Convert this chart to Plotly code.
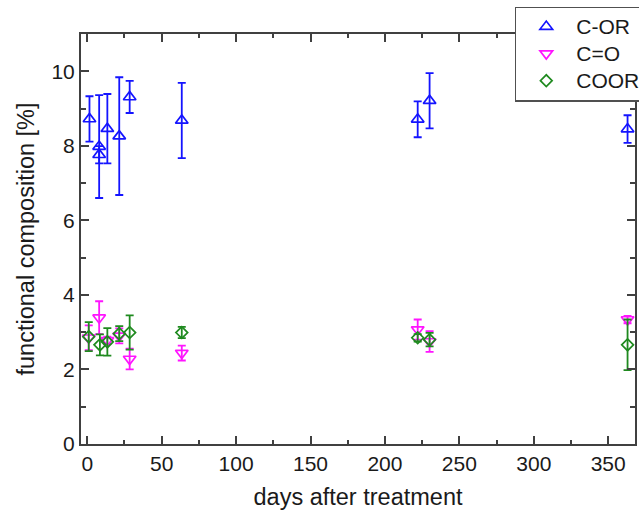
import plotly.graph_objects as go

# Functional group composition versus time after treatment (mean ± sd)
cor_days = [1.5, 8, 8, 13.5, 21.5, 28.5, 63.5, 222, 230, 363]
cor_vals = [8.72, 7.98, 7.76, 8.46, 8.26, 9.31, 8.68, 8.71, 9.21, 8.45]
cor_err = [0.61, 1.38, 0.23, 0.93, 1.58, 0.43, 1.01, 0.48, 0.74, 0.37]

co_days = [1, 8, 13.5, 21.5, 28.5, 63.5, 222, 230, 363]
co_vals = [2.85, 3.39, 2.78, 2.90, 2.28, 2.44, 3.07, 2.75, 3.34]
co_err = [0.33, 0.44, 0.10, 0.20, 0.28, 0.20, 0.27, 0.28, 0.10]

coor_days = [1, 8.5, 13.5, 21.5, 28.5, 63.5, 222, 230, 363]
coor_vals = [2.88, 2.66, 2.74, 2.96, 2.99, 2.99, 2.85, 2.80, 2.66]
coor_err = [0.39, 0.28, 0.37, 0.20, 0.46, 0.15, 0.10, 0.18, 0.68]

x_ticks = [0, 50, 100, 150, 200, 250, 300, 350]
y_ticks = [0, 2, 4, 6, 8, 10]

series = [
    ("C-OR", cor_days, cor_vals, cor_err, "#1414ff", "triangle-up-open", 11),
    ("C=O", co_days, co_vals, co_err, "#ff14ff", "triangle-down-open", 11),
    ("COOR", coor_days, coor_vals, coor_err, "#1f8a1f", "diamond-open", 9),
]

FONT = "Liberation Sans, Arial"
INK = "#1a1a1a"

fig = go.Figure()
for name, xs, ys, es, color, symbol, size in series:
    fig.add_trace(go.Scatter(
        x=xs, y=ys, mode="markers",
        # legend rows are spaced by the legend font; the label itself is larger
        name=f"<span style='font-size:21px'>{name}</span>",
        marker=dict(symbol=symbol, size=size, color=color,
                    line=dict(width=1.7, color=color)),
        error_y=dict(type="data", array=es, visible=True,
                     color=color, thickness=1.8, width=4),
    ))

axis_common = dict(
    showline=True, linecolor="#404040", linewidth=2, mirror="ticks",
    ticks="inside", ticklen=8, tickwidth=1.5, tickcolor="#404040",
    showgrid=False, zeroline=False,
    tickfont=dict(family=FONT, size=21, color=INK),
)

fig.update_xaxes(
    range=[-4.2, 368], tickvals=x_ticks,
    minor=dict(dtick=25, ticks="inside", ticklen=4, tickwidth=1.5, tickcolor="#404040"),
    title=dict(text="days after treatment", standoff=14,
               font=dict(family=FONT, size=23.5, color=INK)),
    **axis_common,
)
fig.update_yaxes(
    range=[0, 11], tickvals=y_ticks,
    minor=dict(dtick=1, ticks="inside", ticklen=5, tickwidth=1.5, tickcolor="#404040"),
    title=dict(text="functional composition [%]", standoff=10,
               font=dict(family=FONT, size=23.5, color=INK)),
    **axis_common,
)

fig.update_layout(
    width=639, height=515,
    margin=dict(l=81, r=4, t=34, b=71, autoexpand=False),
    plot_bgcolor="white", paper_bgcolor="white",
    showlegend=True,
    legend=dict(
        x=0.783, y=1.067, xanchor="left", yanchor="top",
        bgcolor="white", bordercolor="#505050", borderwidth=1.5,
        font=dict(family=FONT, size=18.5, color=INK),
        itemwidth=50, tracegroupgap=0,
    ),
)

fig.write_html("out.html")
